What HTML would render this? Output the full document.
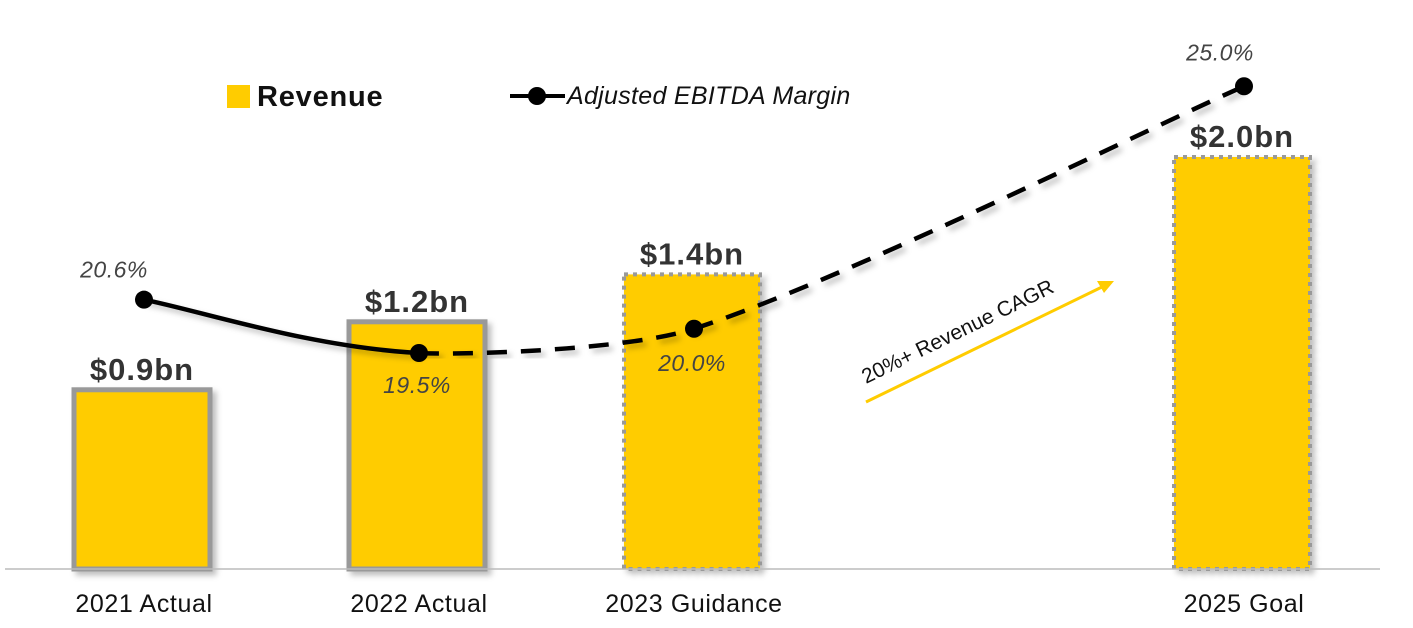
<!DOCTYPE html>
<html><head><meta charset="utf-8"><style>
body{margin:0;background:#fff;}
svg{display:block;font-family:"Liberation Sans",sans-serif;}
</style></head><body>
<svg id="chart" width="1413" height="628" viewBox="0 0 1413 628">
<defs><filter id="sh" x="-10%" y="-10%" width="130%" height="130%"><feDropShadow dx="4" dy="4" stdDeviation="3" flood-color="#000" flood-opacity="0.25"/></filter></defs>
<g id="bars"></g>
<line x1="5" y1="569" x2="1380" y2="569" stroke="#bbb" stroke-width="1.5"/>
<g id="line"></g>
<g id="labels"></g>
<g>
<rect x="227" y="85" width="23" height="23" fill="#FFCC00"/>
<text x="257" y="106" font-size="29" font-weight="bold" letter-spacing="0.8" fill="#111">Revenue</text>
<line x1="510" y1="96" x2="565" y2="96" stroke="#000" stroke-width="4"/>
<circle cx="537" cy="96" r="9" fill="#000"/>
<text x="567" y="104" font-size="25" font-style="italic" letter-spacing="0.3" fill="#111">Adjusted EBITDA Margin</text>
</g>
<g>
<line x1="866" y1="402" x2="1104" y2="286" stroke="#FFCC00" stroke-width="3"/>
<polygon points="1114,281 1097,281 1104,293" fill="#FFCC00"/>
<text transform="translate(866,384) rotate(-26)" font-size="21" fill="#111">20%+ Revenue CAGR</text>
</g>
</svg>
<script>
const categories=["2021 Actual","2022 Actual","2023 Guidance","2025 Goal"];
const slots=[0,1,2,4];
const revenue=[0.87,1.2,1.43,2.0];
const revenueLabels=["$0.9bn","$1.2bn","$1.4bn","$2.0bn"];
const margin=[20.6,19.5,20.0,25.0];
const marginLabels=["20.6%","19.5%","20.0%","25.0%"];
const projected=[false,false,true,true];
const NS="http://www.w3.org/2000/svg";
function xS(i){return 142+i*275;}
function yR(v){return 569-v*206;}
function yM(v){return 353-(v-19.5)*48.5;}
function mk(t,a,p){const e=document.createElementNS(NS,t);for(const k in a)e.setAttribute(k,a[k]);p.appendChild(e);return e;}
const bars=document.getElementById('bars'),lg=document.getElementById('line'),lb=document.getElementById('labels');
categories.forEach((c,i)=>{
 const x=xS(slots[i]),y=yR(revenue[i]);
 const r=mk('rect',{x:x-68,y:y,width:136,height:569-y,fill:'#FFCC00',stroke:'#999','stroke-width':projected[i]?4:5,'stroke-dasharray':projected[i]?'4 5':'none',filter:'url(#sh)'},bars);
 
 
 const t=mk('text',{x:x,y:y-10,'text-anchor':'middle','font-size':31,'font-weight':'bold','letter-spacing':1,fill:'#333'},lb);t.textContent=revenueLabels[i];
 
 
 const ct=mk('text',{x:x+2,y:612,'text-anchor':'middle','font-size':25,'letter-spacing':0.6,fill:'#111'},lb);ct.textContent=c;
 
 
});
const pts=margin.map((m,i)=>[xS(slots[i])+2,yM(m)]);
const tens=[0.2,0.08,0.18];
function seg(a,b,c0,c1,t){
 const p0=c0||a,p3=c1||b;
 const c1x=a[0]+(b[0]-p0[0])*t,c1y=a[1]+(b[1]-p0[1])*t;
 const c2x=b[0]-(p3[0]-a[0])*t,c2y=b[1]-(p3[1]-a[1])*t;
 return `M${a[0]},${a[1]}C${c1x},${c1y} ${c2x},${c2y} ${b[0]},${b[1]}`;
}
for(let i=0;i<pts.length-1;i++){
 const p=mk('path',{d:seg(pts[i],pts[i+1],pts[i-1],pts[i+2],tens[i]),fill:'none',stroke:'#000','stroke-width':4.5,'stroke-dasharray':projected[i+1]?'20 14':'none',filter:'url(#sh)'},lg);
 
 
}
const lo=[[-30,-22],[-2,40],[-2,42],[-24,-26]];
pts.forEach((p,i)=>{
 const c=mk('circle',{cx:p[0],cy:p[1],r:9,fill:'#000'},lg);
 
 
 const t=mk('text',{x:p[0]+lo[i][0],y:p[1]+lo[i][1],'text-anchor':'middle','font-size':23,'font-style':'italic','letter-spacing':0.5,fill:'#444'},lb);t.textContent=marginLabels[i];
 
 
});
</script>
</body></html>
